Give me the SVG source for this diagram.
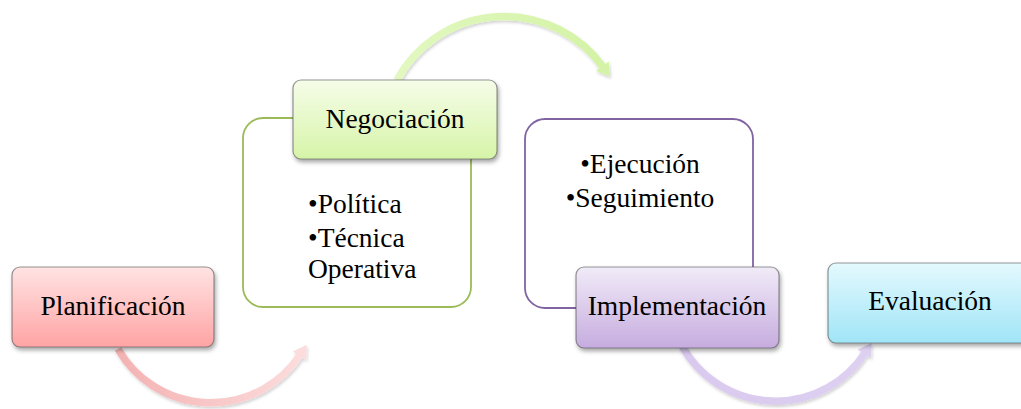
<svg xmlns="http://www.w3.org/2000/svg" width="1021" height="409" viewBox="0 0 1021 409">
<style>
text{font-family:"Liberation Serif","Times New Roman",serif;font-size:27.5px;fill:#000}
.node{stroke:rgba(70,70,70,0.55);stroke-width:1.2}
.arc{fill:none;stroke-width:7.5}
.c{text-anchor:middle}
</style>
<defs>
<filter id="sh" x="-20%" y="-20%" width="140%" height="150%">
<feDropShadow dx="1.5" dy="3" stdDeviation="2.2" flood-color="#000" flood-opacity="0.35"/>
</filter>
<filter id="ash" x="-20%" y="-20%" width="140%" height="150%">
<feDropShadow dx="1" dy="2" stdDeviation="1.5" flood-color="#000" flood-opacity="0.18"/>
</filter>
<linearGradient id="gPink" x1="0" y1="0" x2="0" y2="1"><stop offset="0" stop-color="#ffe3e3"/><stop offset="1" stop-color="#ffa4a4"/></linearGradient>
<linearGradient id="gGreen" x1="0" y1="0" x2="0" y2="1"><stop offset="0" stop-color="#f6fde9"/><stop offset="1" stop-color="#d6f4a8"/></linearGradient>
<linearGradient id="gPurple" x1="0" y1="0" x2="0" y2="1"><stop offset="0" stop-color="#f1ebf8"/><stop offset="1" stop-color="#c6acdf"/></linearGradient>
<linearGradient id="gBlue" x1="0" y1="0" x2="0" y2="1"><stop offset="0" stop-color="#e4f9fe"/><stop offset="1" stop-color="#a0e5f7"/></linearGradient>
<linearGradient id="aPink" x1="0" y1="0" x2="1" y2="0"><stop offset="0" stop-color="#f4b2b2"/><stop offset="1" stop-color="#fcdcdc"/></linearGradient>
<linearGradient id="aGreen" x1="0" y1="0" x2="1" y2="0"><stop offset="0" stop-color="#e2f8c0"/><stop offset="1" stop-color="#d4f3a6"/></linearGradient>
<linearGradient id="aPurple" x1="0" y1="0" x2="1" y2="0"><stop offset="0" stop-color="#d9c9ee"/><stop offset="1" stop-color="#ddd0f1"/></linearGradient>
<marker id="mPink" markerUnits="userSpaceOnUse" markerWidth="16" markerHeight="18" refX="1" refY="8" orient="auto" overflow="visible"><path d="M0,0 L13,8 L0,16 z" fill="#fcdcdc"/></marker>
<marker id="mGreen" markerUnits="userSpaceOnUse" markerWidth="16" markerHeight="18" refX="1" refY="8" orient="auto" overflow="visible"><path d="M0,0 L13,8 L0,16 z" fill="#d4f3a6"/></marker>
<marker id="mPurple" markerUnits="userSpaceOnUse" markerWidth="16" markerHeight="18" refX="1" refY="8" orient="auto" overflow="visible"><path d="M0,0 L13,8 L0,16 z" fill="#ddd0f1"/></marker>
</defs>
<rect width="1021" height="409" fill="#fff"/>
<g id="connectors" filter="url(#ash)">
<path class="arc" d="M118,349 A107,107 0 0 0 300,355" stroke="url(#aPink)" marker-end="url(#mPink)"/>
<path class="arc" d="M397,80 A122,122 0 0 1 603,67" stroke="url(#aGreen)" marker-end="url(#mGreen)"/>
<path class="arc" d="M682,346 A107,107 0 0 0 865,353" stroke="url(#aPurple)" marker-end="url(#mPurple)"/>
</g>
<g id="negociacion-detalle">
<rect x="243" y="118" width="228" height="189" rx="20" fill="#fff" stroke="#9bbb59" stroke-width="1.8"/>
<text x="308" y="213">•Política</text>
<text x="308" y="247">•Técnica</text>
<text x="308" y="278">Operativa</text>
</g>
<g id="implementacion-detalle">
<rect x="525" y="119" width="228" height="189" rx="20" fill="#fff" stroke="#8064a2" stroke-width="1.8"/>
<text class="c" x="640" y="173">•Ejecución</text>
<text class="c" x="640" y="207">•Seguimiento</text>
</g>
<g id="planificacion">
<rect class="node" x="12" y="267" width="202" height="80" rx="8" fill="url(#gPink)" filter="url(#sh)"/>
<text class="c" x="113" y="315">Planificación</text>
</g>
<g id="negociacion">
<rect class="node" x="293" y="80" width="204" height="79" rx="8" fill="url(#gGreen)" filter="url(#sh)"/>
<text class="c" x="395" y="128">Negociación</text>
</g>
<g id="implementacion">
<rect class="node" x="576" y="267" width="203" height="81" rx="8" fill="url(#gPurple)" filter="url(#sh)"/>
<text class="c" x="677" y="315">Implementación</text>
</g>
<g id="evaluacion">
<rect class="node" x="828" y="263" width="203" height="80" rx="8" fill="url(#gBlue)" filter="url(#sh)"/>
<text class="c" x="930" y="310">Evaluación</text>
</g>
</svg>
